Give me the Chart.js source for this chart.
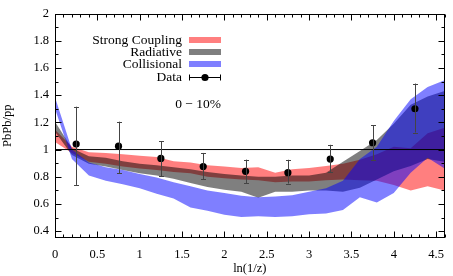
<!DOCTYPE html>
<html><head><meta charset="utf-8">
<script src="https://cdn.jsdelivr.net/npm/chart.js@4/dist/chart.umd.min.js"></script>
<style>html,body{margin:0;padding:0;background:#fff}#wrap{width:453px;height:276px}</style>
</head><body><div id="wrap"><canvas id="c" width="453" height="276"></canvas></div>
<script>
// ---- data ----
const xGrid = [0,0.2,0.4,0.6,0.8,1.0,1.2,1.4,1.6,1.8,2.0,2.2,2.4,2.6,2.8,3.0,3.2,3.4,3.6,3.8,4.0,4.2,4.4,4.6];
const strongTop    = [1.145,1.02,0.98,0.975,0.965,0.955,0.945,0.915,0.905,0.885,0.875,0.865,0.87,0.83,0.855,0.865,0.88,0.895,0.925,0.965,1.02,1.01,1.12,1.16];
const strongBottom = [1.055,0.975,0.91,0.895,0.875,0.86,0.85,0.835,0.825,0.80,0.79,0.78,0.775,0.76,0.765,0.765,0.775,0.78,0.775,0.77,0.74,0.70,0.73,0.70];
const radTop       = [1.205,1.01,0.95,0.94,0.915,0.895,0.885,0.87,0.855,0.835,0.82,0.81,0.80,0.80,0.81,0.81,0.83,0.91,0.99,1.07,1.19,1.33,1.39,1.43];
const radBottom    = [1.13,0.96,0.895,0.875,0.85,0.825,0.81,0.785,0.755,0.725,0.705,0.69,0.645,0.69,0.69,0.70,0.70,0.69,0.72,0.78,0.84,0.88,0.93,0.91];
const collTop      = [1.385,1.0,0.905,0.87,0.85,0.82,0.795,0.76,0.73,0.70,0.68,0.66,0.65,0.655,0.665,0.69,0.715,0.77,0.93,1.02,1.21,1.37,1.46,1.51];
const collBottom   = [1.30,0.93,0.81,0.77,0.745,0.715,0.675,0.64,0.575,0.55,0.52,0.505,0.51,0.505,0.51,0.525,0.53,0.555,0.65,0.61,0.68,0.83,0.94,0.86];
const dataX    = [0.25,0.75,1.25,1.75,2.25,2.75,3.25,3.75,4.25];
const dataY    = [1.04,1.025,0.935,0.875,0.84,0.83,0.93,1.05,1.30];
const dataLow  = [0.74,0.825,0.805,0.78,0.752,0.75,0.835,0.92,1.125];
const dataHigh = [1.315,1.205,1.06,0.975,0.926,0.925,1.035,1.18,1.485];
const xTicks = [0,0.5,1,1.5,2,2.5,3,3.5,4,4.5];
const xTickLabels = ['0','0.5','1','1.5','2','2.5','3','3.5','4','4.5'];
const yTicks = [0.4,0.6,0.8,1,1.2,1.4,1.6,1.8,2];
const yTickLabels = ['0.4','0.6','0.8','1','1.2','1.4','1.6','1.8','2'];
const seriesNames = ['Strong Coupling','Radiative','Collisional','Data'];
const centrality = '0 \u2212 10%';

// ---- style ----
const RED = 'rgba(255,0,0,0.5)', GRAY = 'rgba(0,0,0,0.5)', BLUE = 'rgba(0,0,255,0.5)';
const SERIF = '"Liberation Serif", "DejaVu Serif", serif';
const pts = arr => arr.map((v,i)=>({x:xGrid[i], y:v}));
const edge = (data, fill, color, order) => ({type:'line', data:pts(data), fill, backgroundColor:color, borderWidth:0, pointRadius:0, tension:0, order});

const datasets = [
  edge(strongTop, 1, RED, 3), edge(strongBottom, false, RED, 3),
  edge(radTop, 3, GRAY, 2), edge(radBottom, false, GRAY, 2),
  edge(collTop, 5, BLUE, 1), edge(collBottom, false, BLUE, 1),
  {type:'line', data:[{x:0,y:1},{x:4.6,y:1}], borderColor:'#000', borderWidth:1, pointRadius:0, fill:false, order:0.5},
  {type:'scatter', data:dataX.map((x,i)=>({x, y:dataY[i]})), backgroundColor:'#000', borderWidth:0, pointRadius:3.6, order:0}
];

const frameTicks = {
  id:'frameTicks',
  afterDraw(chart){
    const {ctx, chartArea:a, scales:{x,y}} = chart;
    ctx.save();
    ctx.strokeStyle='#000'; ctx.lineWidth=1;
    const L=Math.round(a.left)+0.5, R=Math.round(a.right)-0.5, T=Math.round(a.top)+0.5, B=Math.round(a.bottom)-0.5;
    ctx.strokeRect(L, T, R-L, B-T);
    ctx.beginPath();
    for(let k=0;k<=46;k++){
      const v=k/10, px=Math.round(x.getPixelForValue(v))+0.5, len=(k%5===0)?6:3;
      ctx.moveTo(px,B); ctx.lineTo(px,B-len); ctx.moveTo(px,T); ctx.lineTo(px,T+len);
    }
    for(let k=4;k<=20;k++){
      const v=k/10, py=Math.round(y.getPixelForValue(v))+0.5, len=(k%2===0)?6:3;
      ctx.moveTo(L,py); ctx.lineTo(L+len,py); ctx.moveTo(R,py); ctx.lineTo(R-len,py);
    }
    ctx.stroke();
    // legend
    ctx.font = '13.5px '+SERIF; ctx.fillStyle='#000'; ctx.textAlign='right'; ctx.textBaseline='middle';
    const rows=[40,52,64,77], cols=[RED,GRAY,BLUE];
    seriesNames.forEach((n,i)=>{ ctx.fillText(n, 182, rows[i]); });
    cols.forEach((c,i)=>{ ctx.fillStyle=c; ctx.fillRect(189, rows[i]-3, 32, 6); });
    ctx.strokeStyle='#000'; ctx.beginPath();
    ctx.moveTo(189,77.5); ctx.lineTo(221,77.5); ctx.moveTo(189.5,74.5); ctx.lineTo(189.5,80.5); ctx.moveTo(220.5,74.5); ctx.lineTo(220.5,80.5);
    ctx.stroke();
    ctx.fillStyle='#000'; ctx.beginPath(); ctx.arc(205,77.5,3.6,0,Math.PI*2); ctx.fill();
    ctx.fillText(centrality, 221, 104);
    ctx.restore();
  },
  afterDatasetsDraw(chart){
    const {ctx, scales:{x,y}} = chart;
    ctx.save(); ctx.strokeStyle='#444'; ctx.lineWidth=1; ctx.beginPath();
    dataX.forEach((v,i)=>{
      const px=Math.round(x.getPixelForValue(v))+0.5, t=y.getPixelForValue(dataHigh[i]), b=y.getPixelForValue(dataLow[i]);
      ctx.moveTo(px,t); ctx.lineTo(px,b);
      ctx.moveTo(px-2.5,Math.round(t)+0.5); ctx.lineTo(px+2.5,Math.round(t)+0.5);
      ctx.moveTo(px-2.5,Math.round(b)+0.5); ctx.lineTo(px+2.5,Math.round(b)+0.5);
    });
    ctx.stroke(); ctx.restore();
  }
};

new Chart(document.getElementById('c'), {
  data:{datasets},
  options:{
    responsive:false, animation:false, devicePixelRatio:1,
    layout:{padding:{top:7,right:1,left:0,bottom:0}},
    plugins:{legend:{display:false}, tooltip:{enabled:false}},
    scales:{
      x:{type:'linear', min:0, max:4.6,
        afterBuildTicks(s){ s.ticks = xTicks.map(v=>({value:v})); },
        afterFit(s){ s.height = 38; },
        grid:{display:false, drawTicks:false}, border:{display:false},
        ticks:{padding:9, color:'#000', font:{family:SERIF, size:12.5}, maxRotation:0, autoSkip:false,
          callback:(v)=>xTickLabels[xTicks.indexOf(v)] ?? ''},
        title:{display:true, text:'ln(1/z)', color:'#000', font:{family:SERIF, size:12.5}, padding:{top:0,bottom:0}}
      },
      y:{type:'linear', min:0.35, max:2,
        afterBuildTicks(s){ s.ticks = yTicks.map(v=>({value:v})); },
        afterFit(s){ s.width = 55; },
        grid:{display:false, drawTicks:false}, border:{display:false},
        ticks:{padding:6, color:'#000', font:{family:SERIF, size:12.5}, autoSkip:false,
          callback:(v)=>yTickLabels[yTicks.indexOf(v)] ?? ''},
        title:{display:true, text:'PbPb/pp', color:'#000', font:{family:SERIF, size:12.5}, padding:{top:0,bottom:0}}
      }
    }
  },
  plugins:[frameTicks]
});
</script></body></html>
